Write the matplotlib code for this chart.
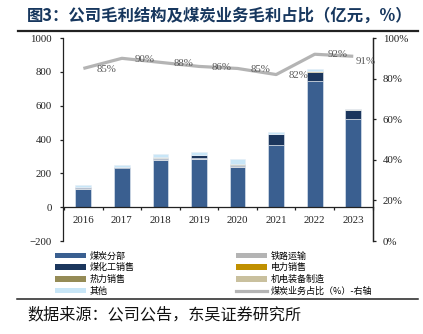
import matplotlib
matplotlib.use("Agg")
import matplotlib.pyplot as plt
from matplotlib.patches import Patch
from matplotlib.lines import Line2D
from matplotlib.ticker import FuncFormatter
import numpy as np

plt.rcParams['font.family'] = ['Liberation Serif', 'Noto Sans CJK SC']

years = ["2016", "2017", "2018", "2019", "2020", "2021", "2022", "2023"]

# 毛利构成（亿元）
coal = [110, 230, 280, 285, 240, 365, 748, 522]
rail = [3, 2, 3, 3, 2, 2, 0, 0]
chem = [5, 5, 5, 20, 8, 67, 53, 51]
power = [0, 0, 0, 0, 1, 0, 3, 3]
heat = [0, 0, 3, 0, 3, 0, 0, 0]
machinery = [0, 0, 3, 0, 0, 0, 0, 3]
other = [12, 12, 22, 19, 28, 10, 11, 0]

# 煤炭业务毛利占比（%）
coal_share = [85, 90, 88, 86, 85, 82, 92, 91]

series = [
    ("煤炭分部", coal, "#3a5f90"),
    ("铁路运输", rail, "#b4b4b4"),
    ("煤化工销售", chem, "#1b365d"),
    ("电力销售", power, "#c09000"),
    ("热力销售", heat, "#958b56"),
    ("机电装备制造", machinery, "#c9c09e"),
    ("其他", other, "#c8e6f7"),
]

fig = plt.figure(figsize=(4.23, 3.34), dpi=100)
ax = fig.add_axes([0.1497, 0.2784, 0.7328, 0.6078])

x = np.arange(len(years))
bottom = np.zeros(len(years))
for name, vals, col in series:
    ax.bar(x, vals, width=0.41, bottom=bottom, color=col,
           edgecolor="#e6edf5", linewidth=0.4, zorder=2)
    bottom += np.array(vals)

ax.set_xlim(-0.52, 7.52)
ax.set_ylim(-200, 1000)
ax.set_yticks(range(-200, 1001, 200))
ax.spines['top'].set_visible(False)
ax.spines['bottom'].set_position(('data', 0))
for s in ['left', 'right', 'bottom']:
    ax.spines[s].set_color('#222222')
    ax.spines[s].set_linewidth(0.9)
ax.set_xticks(x)
ax.set_xticklabels(years)
ax.set_xticks(np.arange(-0.5, 8.0, 1.0), minor=True)
ax.tick_params(axis='x', which='major', length=0, pad=6.3,
               labelsize=7.8, labelcolor='#222222')
ax.tick_params(axis='x', which='minor', length=2.4, width=0.9,
               direction='out', color='#222222')
ax.tick_params(axis='y', length=2.4, width=0.9, pad=6.0,
               labelsize=7.8, labelcolor='#222222', color='#222222')

ax2 = ax.twinx()
ax2.set_ylim(0, 100)
ax2.set_yticks(range(0, 101, 20))
ax2.yaxis.set_major_formatter(FuncFormatter(lambda v, p: f"{v:.0f}%"))
ax2.spines['top'].set_visible(False)
ax2.spines['left'].set_visible(False)
ax2.spines['bottom'].set_visible(False)
ax2.spines['right'].set_color('#222222')
ax2.spines['right'].set_linewidth(0.9)
ax2.tick_params(axis='y', length=2.4, width=0.9, pad=4.3,
                labelsize=7.8, labelcolor='#222222', color='#222222')

ax2.plot(x, coal_share, color="#b4b4b4", linewidth=2.3, zorder=3,
         solid_capstyle='butt')
offsets = [(16.5, -0.5)] * 7 + [(8.6, -3.6)]
for xi, v, off in zip(x, coal_share, offsets):
    ax2.annotate(f"{v}%", (xi, v), xytext=off, textcoords='offset points',
                 ha='center', va='center', fontsize=7.8, color='#595959')

# 图例
handles = []
for name in ["煤炭分部", "煤化工销售", "热力销售", "其他",
             "铁路运输", "电力销售", "机电装备制造"]:
    col = [c for n, v, c in series if n == name][0]
    handles.append(Patch(facecolor=col, edgecolor='none', label=name))
handles.append(Line2D([0], [0], color="#b4b4b4", linewidth=2.3,
                      label="煤炭业务占比（%）-右轴"))
fig.legend(handles=handles, ncol=2, loc='upper left',
           bbox_to_anchor=(55 / 423, 1 - 251.5 / 334),
           frameon=False, borderpad=0, borderaxespad=0,
           prop={'family': ['Noto Sans CJK SC'], 'size': 6.5},
           handlelength=3.4, handleheight=0.55, handletextpad=0.45,
           labelspacing=0.28, columnspacing=11.2)

# 标题与来源
fig.text(27 / 423, 1 - 15.5 / 334, "图3：公司毛利结构及煤炭业务毛利占比（亿元，%）",
         family=['Noto Sans CJK SC'], fontsize=11.8, fontweight='bold',
         color='#17375e', ha='left', va='center')
fig.add_artist(Line2D([18 / 423, 418 / 423], [1 - 31 / 334, 1 - 31 / 334],
                      color='#222222', linewidth=1.6))
fig.add_artist(Line2D([17 / 423, 418 / 423], [1 - 299 / 334, 1 - 299 / 334],
                      color='#222222', linewidth=1.1))
fig.text(27 / 423, 1 - 315 / 334, "数据来源：公司公告，东吴证券研究所",
         family=['Noto Sans CJK SC'], fontsize=11.6, color='#111111',
         ha='left', va='center')

fig.savefig("out.png", dpi=100)
